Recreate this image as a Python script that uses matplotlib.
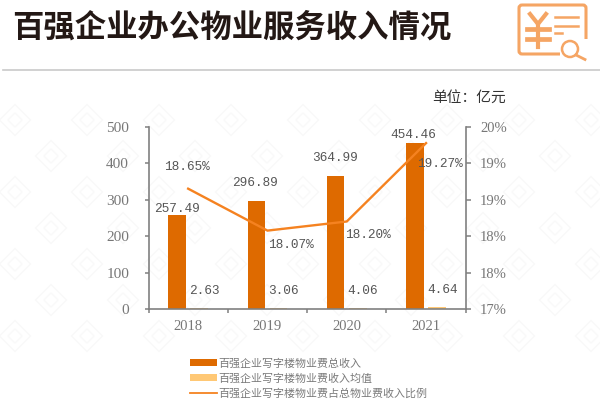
# -*- coding: utf-8 -*-
from matplotlib import pyplot as plt
from matplotlib.patches import FancyBboxPatch, Circle, Rectangle
from matplotlib.lines import Line2D
from matplotlib.ticker import FuncFormatter
from matplotlib.transforms import Affine2D

plt.rcParams['font.family'] = ['Noto Sans CJK SC', 'DejaVu Sans']

# =============================================================================
# Data
# =============================================================================
years = ['2018', '2019', '2020', '2021']
total_income = [257.49, 296.89, 364.99, 454.46]
mean_income = [2.63, 3.06, 4.06, 4.64]
# the line as drawn does not sit on its own labels, so both are kept
share_drawn = [18.98, 18.29, 18.44, 19.73]
share_labels = ['18.65%', '18.07%', '18.20%', '19.27%']
legend_labels = ['百强企业写字楼物业费总收入',
                 '百强企业写字楼物业费收入均值',
                 '百强企业写字楼物业费占总物业费收入比例']

title = '百强企业办公物业服务收入情况'
unit = '单位：亿元'

W, H = 600, 419
AXIS_GREY = '#808080'
TEXT_GREY = '#777777'
BAR_DARK = '#de6a00'
BAR_LIGHT = '#ffc875'
LINE_COL = '#f58220'
NUM_FONT = 'Liberation Mono'
TICK_FONT = 'Liberation Serif'

fig = plt.figure(figsize=[W / 100, H / 100], dpi=100)

# overlay in pixel coordinates for the header, icon and watermark
bg = fig.add_axes([0, 0, 1, 1])
bg.set_xlim(0, W)
bg.set_ylim(H, 0)
bg.axis('off')

bg.text(12, 28, title, fontsize=22.6, fontweight='bold', color='#231815',
        va='center', ha='left')
bg.plot([3, W], [70.5, 70.5], color='#c9c9c9', lw=1.2)
bg.text(432, 99, unit, fontsize=10.6, color='#333333', va='center', ha='left')

# icon
ICON = '#f5a564'
bg.add_patch(FancyBboxPatch((519, 5), 67, 49, boxstyle='round,pad=0,rounding_size=3',
                            fc='none', ec=ICON, lw=2.2))
bg.add_patch(Rectangle((560, 39), 30, 20, fc='white', ec='none', zorder=3))
bg.add_patch(Circle((570, 49), 8, fc='white', ec=ICON, lw=1.8, zorder=4))
bg.plot([576, 585], [55, 59.5], color=ICON, lw=2, zorder=4)
bg.plot([530, 538, 546], [14, 24, 14], color=ICON, lw=3, zorder=4)
bg.plot([538, 538], [24, 47], color=ICON, lw=3, zorder=4)
bg.plot([527, 549], [29, 29], color=ICON, lw=3.4, zorder=4)
bg.plot([527, 549], [39, 39], color=ICON, lw=3.4, zorder=4)
bg.plot([555, 578], [17.5, 17.5], color=ICON, lw=1.8)
bg.plot([555, 578], [26, 26], color=ICON, lw=1.8)
bg.plot([555, 562], [33.5, 33.5], color=ICON, lw=1.8)

# faint stamps of the watermark
WM = '#f9f9f9'
for row in range(7):
    for col in range(9):
        cx = 15 + col * 72 + (row % 2) * 36
        cy = 120 + row * 36
        rot = Affine2D().rotate_deg_around(cx, cy, 45) + bg.transData
        bg.add_patch(Rectangle((cx - 11, cy - 11), 22, 22, fc='none', ec=WM, lw=1, transform=rot))
        bg.add_patch(Rectangle((cx - 5, cy - 5), 10, 10, fc='none', ec=WM, lw=1, transform=rot))

# =============================================================================
# Chart
# =============================================================================
left, right, top, bottom = 148.5, 465.7, 126.7, 309
ax1 = fig.add_axes([left / W, 1 - bottom / H, (right - left) / W, (bottom - top) / H])
ax1.patch.set_alpha(0)
ax2 = ax1.twinx()

x = list(range(len(years)))
bar_w = 0.222
ax1.bar([i - 0.14 for i in x], total_income, bar_w, color=BAR_DARK, zorder=2)
ax1.bar([i + 0.14 for i in x], mean_income, bar_w, color=BAR_LIGHT, zorder=2)
ax2.plot(x, share_drawn, color=LINE_COL, lw=1.7, zorder=3, solid_joinstyle='miter')

ax1.set_xlim(-0.5, 3.5)
ax1.set_ylim(0, 500)
ax2.set_ylim(17, 20)
ax1.set_yticks([0, 100, 200, 300, 400, 500])
ax2.set_yticks([17, 17.6, 18.2, 18.8, 19.4, 20])
ax2.yaxis.set_major_formatter(FuncFormatter(lambda v, p: '%.0f%%' % v))

# ticks sit between the categories, labels on the categories
ax1.set_xticks([-0.5, 0.5, 1.5, 2.5, 3.5])
ax1.set_xticklabels([])
ax1.set_xticks(x, minor=True)
ax1.set_xticklabels(years, minor=True, fontsize=10.5, family=TICK_FONT, color=TEXT_GREY)
ax1.tick_params(axis='x', which='minor', length=0, pad=8)
ax1.tick_params(axis='x', which='major', length=3, width=1.1, color=AXIS_GREY)
ax1.tick_params(axis='y', length=3, width=1.1, color=AXIS_GREY, labelcolor=TEXT_GREY,
                labelsize=11, pad=11)
ax2.tick_params(axis='y', length=3.3, width=1.1, color=AXIS_GREY, labelcolor=TEXT_GREY,
                labelsize=10.5, pad=7)
for t in ax1.get_yticklabels() + ax2.get_yticklabels():
    t.set_family(TICK_FONT)

for a in [ax1, ax2]:
    a.spines['top'].set_visible(False)
    for s in ['left', 'right', 'bottom']:
        a.spines[s].set_color(AXIS_GREY)
        a.spines[s].set_linewidth(1.2)
ax1.spines['right'].set_visible(False)
ax2.spines['left'].set_visible(False)
ax2.spines['bottom'].set_visible(False)

# labels
label_style = dict(fontsize=9.2, family=NUM_FONT, color='#555555', ha='center', va='center')
total_offsets = [(0, 6), (-1, 18), (-1, 18), (-2, 8)]
for i in x:
    ax1.annotate('%.2f' % total_income[i], (i - 0.14, total_income[i]), xytext=total_offsets[i],
                 textcoords='offset pixels', zorder=5, **label_style)
    ax1.annotate('%.2f' % mean_income[i], (i + 0.14, mean_income[i]), xytext=(5, 17),
                 textcoords='offset pixels', zorder=5, **label_style)
share_offsets = [(-1, 22), (23, -14), (21, -14), (14, -21)]
for i in x:
    ax2.annotate(share_labels[i], (i, share_drawn[i]), xytext=share_offsets[i],
                 textcoords='offset pixels', zorder=5, **label_style)

# legend
handles = [Rectangle((0, 0), 1, 1, fc=BAR_DARK),
           Rectangle((0, 0), 1, 1, fc=BAR_LIGHT),
           Line2D([0], [0], color=LINE_COL, lw=1.3)]
fig.legend(handles, legend_labels, loc='upper left', bbox_to_anchor=(190 / W, 1 - 358 / H),
           frameon=False, fontsize=7.9, labelcolor='#7a7a7a', labelspacing=0.42,
           handlelength=2.45, handleheight=0.5, handletextpad=0.15, borderpad=0, borderaxespad=0)

plt.savefig('out.png', dpi=100)
